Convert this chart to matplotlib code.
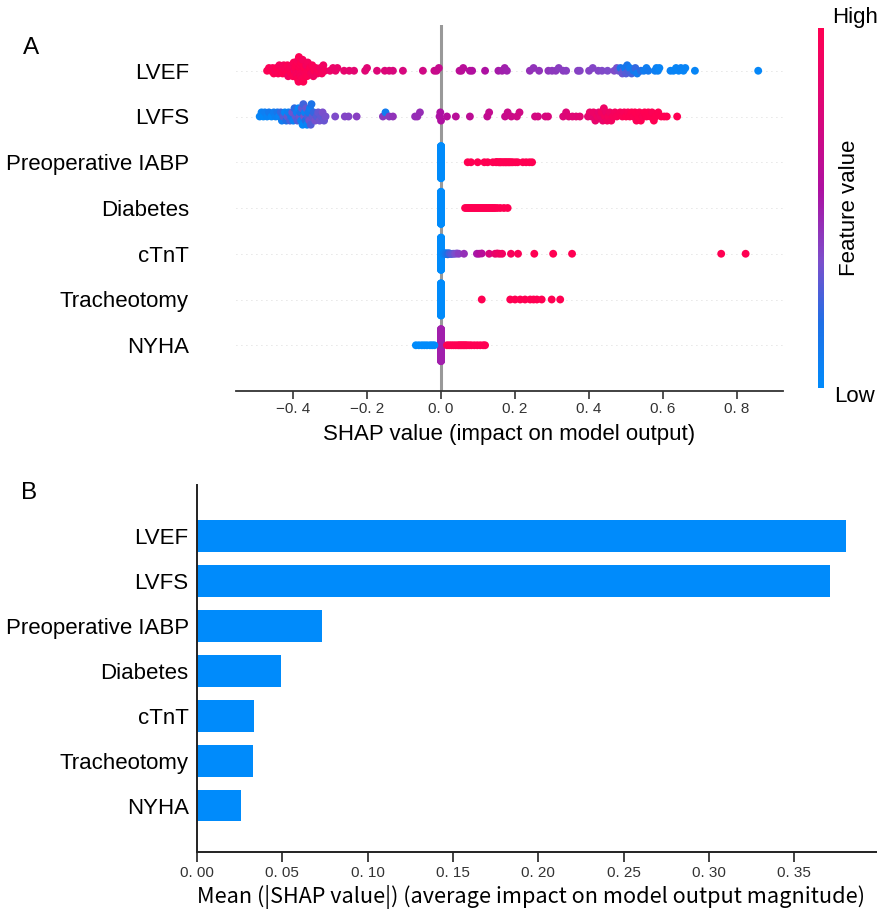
import numpy as np
import matplotlib
matplotlib.use("Agg")
import matplotlib.pyplot as plt
from matplotlib.colors import LinearSegmentedColormap
import matplotlib.cm as cm

# ---------------- data ----------------
features = ["LVEF", "LVFS", "Preoperative IABP", "Diabetes", "cTnT", "Tracheotomy", "NYHA"]

lvef_shap = [
    -0.470, -0.465, -0.460, -0.455, -0.452, -0.448, -0.445, -0.440, -0.437, -0.434,
    -0.430, -0.428, -0.425, -0.422, -0.420, -0.418, -0.415, -0.413, -0.410, -0.408,
    -0.405, -0.403, -0.400, -0.398, -0.396, -0.394, -0.392, -0.390, -0.389, -0.388,
    -0.387, -0.386, -0.385, -0.384, -0.383, -0.382, -0.381, -0.380, -0.379, -0.378,
    -0.376, -0.374, -0.372, -0.370, -0.368, -0.366, -0.364, -0.362, -0.360, -0.357,
    -0.354, -0.351, -0.348, -0.345, -0.342, -0.338, -0.334, -0.330, -0.326, -0.322,
    -0.318, -0.314,
    -0.300, -0.292, -0.285, -0.280, -0.262, -0.248, -0.235, -0.205, -0.200, -0.173,
    -0.152, -0.140, -0.130, -0.103, -0.049, -0.018, -0.012, -0.006, 0.050, 0.055,
    0.060, 0.078, 0.084, 0.119, 0.155, 0.165, 0.172, 0.178, 0.240, 0.250,
    0.265, 0.290, 0.300, 0.310, 0.318, 0.330, 0.338, 0.370, 0.375, 0.400,
    0.410, 0.425, 0.435, 0.450,
    0.468, 0.475, 0.480, 0.485, 0.490, 0.493, 0.497, 0.500, 0.503, 0.507,
    0.510, 0.515, 0.520, 0.525, 0.530, 0.540, 0.548, 0.555, 0.560,
    0.578, 0.582, 0.586, 0.590, 0.620, 0.628, 0.635, 0.642, 0.648, 0.655,
    0.660, 0.686, 0.857]
lvef_fval = [
    0.98, 0.97, 1.00, 0.96, 0.99, 0.95, 1.00, 0.97, 0.94, 0.99,
    0.96, 1.00, 0.93, 0.98, 0.95, 1.00, 0.97, 0.92, 0.99, 0.96,
    1.00, 0.94, 0.98, 0.97, 0.91, 1.00, 0.96, 0.99, 0.93, 0.98,
    1.00, 0.95, 0.97, 0.99, 0.92, 1.00, 0.96, 0.98, 0.94, 1.00,
    0.97, 0.93, 0.99, 0.95, 1.00, 0.96, 0.92, 0.98, 0.94, 0.97,
    0.99, 0.93, 0.96, 0.91, 0.98, 0.95, 0.92, 0.97, 0.90, 0.94,
    0.91, 0.93,
    0.88, 0.87, 0.86, 0.86, 0.84, 0.83, 0.82, 0.80, 0.80, 0.78,
    0.77, 0.76, 0.75, 0.74, 0.71, 0.68, 0.67, 0.66, 0.62, 0.61,
    0.60, 0.58, 0.57, 0.55, 0.52, 0.50, 0.50, 0.49, 0.45, 0.44,
    0.44, 0.43, 0.42, 0.42, 0.41, 0.41, 0.40, 0.40, 0.39, 0.39,
    0.38, 0.38, 0.37, 0.36,
    0.36, 0.34, 0.33, 0.15, 0.32, 0.30, 0.12, 0.28, 0.14, 0.26,
    0.10, 0.25, 0.12, 0.22, 0.09, 0.20, 0.10, 0.08, 0.12,
    0.08, 0.06, 0.07, 0.05, 0.06, 0.05, 0.04, 0.05, 0.06, 0.04,
    0.05, 0.04, 0.03]

lvfs_shap = [
    -0.490, -0.485, -0.480, -0.476, -0.470, -0.465, -0.458, -0.452, -0.447, -0.442,
    -0.438, -0.433, -0.430, -0.426, -0.422, -0.418, -0.415, -0.412, -0.408, -0.405,
    -0.402, -0.399, -0.396, -0.393, -0.390, -0.388, -0.385, -0.382, -0.380, -0.378,
    -0.376, -0.374, -0.372, -0.370, -0.368, -0.366, -0.364, -0.362, -0.360, -0.358,
    -0.356, -0.354, -0.352, -0.350, -0.347, -0.344, -0.340, -0.336, -0.332, -0.328,
    -0.324, -0.320, -0.316, -0.312,
    -0.286, -0.260, -0.250, -0.228, -0.157, -0.150, -0.140, -0.130, -0.070, -0.064,
    -0.057, -0.004, -0.002, 0.000, 0.016, 0.040, 0.078, 0.125, 0.130, 0.173,
    0.180, 0.190, 0.205, 0.212, 0.254, 0.262, 0.282, 0.289, 0.330, 0.338,
    0.345, 0.355, 0.365, 0.375,
    0.397, 0.402, 0.407, 0.412, 0.417, 0.422, 0.426, 0.430, 0.434, 0.437,
    0.440, 0.443, 0.446, 0.449, 0.452, 0.456, 0.460, 0.465, 0.470, 0.475,
    0.484, 0.490, 0.495, 0.500, 0.505, 0.510, 0.515, 0.520, 0.524, 0.528,
    0.532, 0.536, 0.540, 0.545, 0.550, 0.555, 0.560, 0.565, 0.570, 0.575,
    0.580, 0.587, 0.595, 0.603, 0.610, 0.638]
lvfs_fval = [
    0.04, 0.06, 0.02, 0.08, 0.05, 0.12, 0.03, 0.10, 0.07, 0.14,
    0.05, 0.22, 0.09, 0.28, 0.04, 0.18, 0.30, 0.08, 0.25, 0.12,
    0.33, 0.06, 0.20, 0.30, 0.10, 0.27, 0.04, 0.32, 0.15, 0.08,
    0.29, 0.02, 0.24, 0.34, 0.07, 0.18, 0.31, 0.05, 0.26, 0.12,
    0.33, 0.09, 0.28, 0.16, 0.30, 0.22, 0.34, 0.28, 0.31, 0.33,
    0.30, 0.35, 0.32, 0.34,
    0.36, 0.38, 0.38, 0.40, 0.42, 0.10, 0.42, 0.44, 0.45, 0.46,
    0.46, 0.54, 0.55, 0.56, 0.58, 0.60, 0.62, 0.64, 0.65, 0.67,
    0.68, 0.69, 0.70, 0.71, 0.72, 0.73, 0.74, 0.75, 0.77, 0.78,
    0.79, 0.80, 0.80, 0.81,
    0.82, 0.86, 0.83, 0.88, 0.84, 0.90, 0.85, 0.87, 0.92, 0.86,
    0.89, 0.93, 0.88, 0.91, 0.94, 0.90, 0.92, 0.95, 0.93, 0.96,
    0.95, 0.98, 0.96, 1.00, 0.97, 0.99, 1.00, 0.98, 1.00, 0.97,
    1.00, 0.99, 1.00, 0.98, 1.00, 0.99, 1.00, 1.00, 0.98, 1.00,
    1.00, 0.99, 1.00, 1.00, 1.00, 1.00]

# binary / ordinal features: the many samples sitting at SHAP 0 are given as (value, count, feature value)
iabp_zero = (0.0, 130, 0.0)
iabp_shap = [0.072, 0.081, 0.099, 0.117, 0.126, 0.140, 0.149, 0.150, 0.155, 0.158,
             0.160, 0.163, 0.167, 0.170, 0.174, 0.176, 0.180, 0.183, 0.186, 0.190,
             0.194, 0.201, 0.207, 0.221, 0.230, 0.239, 0.246]
iabp_fval = [1.0] * len(iabp_shap)

diab_zero = (0.0, 130, 0.0)
diab_shap = [0.065, 0.070, 0.074, 0.078, 0.082, 0.086, 0.090, 0.094, 0.098, 0.102,
             0.106, 0.110, 0.114, 0.118, 0.122, 0.126, 0.130, 0.134, 0.138, 0.142,
             0.146, 0.152, 0.160, 0.170, 0.180]
diab_fval = [1.0] * len(diab_shap)

ctnt_zero = (0.0, 115, 0.0)
ctnt_shap = [0.008, 0.008, 0.008, 0.008, 0.013, 0.013, 0.013, 0.018, 0.018, 0.023,
             0.023, 0.028, 0.033, 0.038, 0.043, 0.048, 0.062, 0.097, 0.103, 0.110,
             0.130, 0.146, 0.152, 0.158, 0.165, 0.189, 0.208, 0.252, 0.303, 0.354,
             0.757, 0.823]
ctnt_fval = [0.03, 0.05, 0.04, 0.06, 0.08, 0.10, 0.12, 0.14, 0.18, 0.20,
             0.24, 0.28, 0.30, 0.34, 0.36, 0.40, 0.45, 0.52, 0.56, 0.60,
             0.75, 0.85, 0.88, 0.90, 0.92, 0.95, 0.97, 1.00, 1.00, 1.00,
             1.00, 1.00]

trach_zero = (0.0, 140, 0.0)
trach_shap = [0.110, 0.187, 0.200, 0.214, 0.227, 0.241, 0.250, 0.259, 0.272, 0.299, 0.322]
trach_fval = [1.0] * len(trach_shap)

nyha_zero = (0.0, 120, 0.5)
nyha_shap = [-0.068, -0.060, -0.052, -0.045, -0.038, -0.030, -0.024, -0.018,
             0.016, 0.022, 0.028, 0.034, 0.040, 0.046, 0.050, 0.054, 0.058, 0.062,
             0.066, 0.070, 0.076, 0.082, 0.090, 0.098, 0.106, 0.114, 0.119]
nyha_fval = [0.0] * 8 + [1.0] * 19

mean_abs_shap = [0.380, 0.371, 0.0732, 0.0492, 0.0334, 0.0328, 0.0258]

shap_ticks = [-0.4, -0.2, 0.0, 0.2, 0.4, 0.6, 0.8]
shap_ticklabels = ["\u22120. 4", "\u22120. 2", "0. 0", "0. 2", "0. 4", "0. 6", "0. 8"]
bar_ticks = [0.00, 0.05, 0.10, 0.15, 0.20, 0.25, 0.30, 0.35]
bar_ticklabels = ["0. 00", "0. 05", "0. 10", "0. 15", "0. 20", "0. 25", "0. 30", "0. 35"]


def with_zero(zero, vals, fvals):
    v, n, f = zero
    return [v] * n + list(vals), [f] * n + list(fvals)


rows = [
    (lvef_shap, lvef_fval),
    (lvfs_shap, lvfs_fval),
    with_zero(iabp_zero, iabp_shap, iabp_fval),
    with_zero(diab_zero, diab_shap, diab_fval),
    with_zero(ctnt_zero, ctnt_shap, ctnt_fval),
    with_zero(trach_zero, trach_shap, trach_fval),
    with_zero(nyha_zero, nyha_shap, nyha_fval),
]
for s, f in rows:
    assert len(s) == len(f)

# ---------------- style ----------------
W, H = 878, 914
fig = plt.figure(figsize=(W / 100, H / 100), dpi=100)


def fx(px):
    return px / W


def fy(py):
    return 1 - py / H


shap_cmap = LinearSegmentedColormap.from_list(
    "red_blue",
    [(0.0, "#008bfb"), (0.18, "#1f6fe6"), (0.35, "#7b4fcc"), (0.55, "#ad10a2"),
     (0.75, "#d8077c"), (1.0, "#ff0052")])

LABEL_FONT = ["Liberation Sans", "DejaVu Sans"]
TICK_FONT = ["Liberation Sans Narrow", "Liberation Sans", "DejaVu Sans"]
B_XLABEL_FONT = ["Noto Sans CJK SC", "DejaVu Sans"]
LABEL_SIZE = 16


def beeswarm(vals, row_height=0.4, nbins=100):
    vals = np.asarray(vals, dtype=float)
    n = len(vals)
    quant = np.round(nbins * (vals - vals.min()) / (vals.max() - vals.min() + 1e-8))
    inds = np.argsort(quant, kind="stable")
    layer, last = 0, -1
    ys = np.zeros(n)
    for ind in inds:
        if quant[ind] != last:
            layer = 0
        ys[ind] = np.ceil(layer / 2) * ((layer % 2) * 2 - 1)
        layer += 1
        last = quant[ind]
    ys *= 0.9 * (row_height / np.max(ys + 1))
    return ys


# ---------------- panel A ----------------
axA = fig.add_axes([fx(236), fy(391), fx(783) - fx(236), fy(25) - fy(391)])
nfeat = len(features)
axA.axvline(0, color="#999999", lw=2.2, zorder=-1)
for i, (s, f) in enumerate(rows):
    ypos = nfeat - 1 - i
    axA.axhline(ypos, color="#cccccc", lw=0.6, dashes=(1, 5), zorder=-2)
    ys = beeswarm(s)
    axA.scatter(s, ypos + ys, c=f, cmap=shap_cmap, vmin=0, vmax=1, s=32,
                linewidths=0, alpha=1, zorder=3)
axA.set_xlim(-0.554, 0.924)
axA.set_ylim(-1, nfeat)
axA.set_yticks(range(nfeat))
axA.set_yticklabels(features[::-1], fontsize=LABEL_SIZE, family=LABEL_FONT, color="black")
axA.tick_params(axis="y", length=0, pad=34)
axA.set_xticks(shap_ticks)
axA.set_xticklabels(shap_ticklabels, fontsize=11, family=TICK_FONT, color="#333333")
axA.tick_params(axis="x", length=6, width=1.2, color="#333333", pad=2)
for sp in ["top", "right", "left"]:
    axA.spines[sp].set_visible(False)
axA.spines["bottom"].set_color("#333333")
axA.spines["bottom"].set_linewidth(1.3)
axA.set_xlabel("SHAP value (impact on model output)", fontsize=LABEL_SIZE, family=LABEL_FONT,
               color="black")
axA.xaxis.set_label_coords(0.5, (fy(435) - fy(391)) / (fy(25) - fy(391)))
axA.xaxis.label.set_va("center")

# colorbar
cax = fig.add_axes([fx(818), fy(388), fx(824) - fx(818), fy(28) - fy(388)])
sm = cm.ScalarMappable(cmap=shap_cmap, norm=plt.Normalize(0, 1))
cb = fig.colorbar(sm, cax=cax)
cb.outline.set_visible(False)
cb.set_ticks([])
fig.text(fx(855), fy(18), "High", ha="center", va="center", fontsize=LABEL_SIZE, family=LABEL_FONT)
fig.text(fx(855), fy(396), "Low", ha="center", va="center", fontsize=LABEL_SIZE, family=LABEL_FONT)
fig.text(fx(850), fy(208), "Feature value", ha="center", va="center", rotation=90,
         fontsize=LABEL_SIZE, family=LABEL_FONT)

# ---------------- panel B ----------------
axB = fig.add_axes([fx(197), fy(852), 1 - fx(197), fy(485) - fy(852)])
ypos_b = np.arange(nfeat)[::-1]
axB.barh(ypos_b, mean_abs_shap, height=0.7, color="#008bfb", align="center")
axB.set_xlim(0, 0.399)
axB.set_ylim(-1.03, 7.14)
axB.set_yticks(ypos_b)
axB.set_yticklabels(features, fontsize=LABEL_SIZE, family=LABEL_FONT, color="black")
axB.tick_params(axis="y", length=0, pad=6)
axB.set_xticks(bar_ticks)
axB.set_xticklabels(bar_ticklabels, fontsize=11, family=TICK_FONT, color="#333333")
axB.tick_params(axis="x", length=7, width=1.2, color="#222222", pad=3)
for sp in ["top", "right"]:
    axB.spines[sp].set_visible(False)
for sp in ["left", "bottom"]:
    axB.spines[sp].set_color("#222222")
    axB.spines[sp].set_linewidth(1.4)
axB.set_xlabel("Mean (|SHAP value|) (average impact on model output magnitude)",
               fontsize=15.6, family=B_XLABEL_FONT, color="black")
axB.xaxis.set_label_coords((531 - 197) / (W - 197), (fy(897) - fy(852)) / (fy(485) - fy(852)))
axB.xaxis.label.set_va("center")

# panel letters
fig.text(fx(31), fy(48), "A", ha="center", va="center", fontsize=17.5, family=LABEL_FONT)
fig.text(fx(29), fy(493), "B", ha="center", va="center", fontsize=17.5, family=LABEL_FONT)

fig.savefig("out.png", dpi=100)
